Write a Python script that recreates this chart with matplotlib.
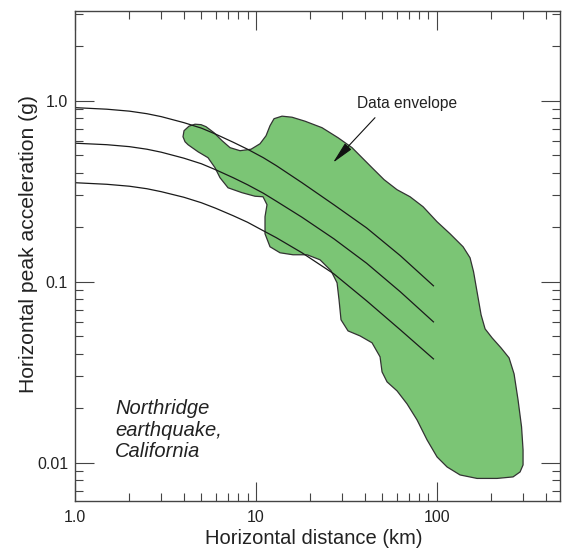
import matplotlib
matplotlib.use("Agg")
import matplotlib.pyplot as plt
from matplotlib.ticker import FixedLocator, FixedFormatter, LogLocator, NullFormatter

plt.rcParams["font.family"] = ["Liberation Sans", "DejaVu Sans"]

# attenuation curves (distance in km, acceleration in g)
curve_dist = [1.0, 1.5, 2.0, 2.5, 3.0, 4.0, 5.0, 6.0, 7.5, 9.0, 11.0, 13.0,
              18.0, 27.0, 41.0, 63.0, 96.0]
upper_acc = [0.915, 0.897, 0.875, 0.847, 0.816, 0.756, 0.705, 0.653, 0.589,
             0.539, 0.484, 0.437, 0.352, 0.266, 0.198, 0.139, 0.0948]
median_acc = [0.582, 0.571, 0.557, 0.539, 0.519, 0.481, 0.448, 0.415, 0.375,
              0.343, 0.308, 0.278, 0.2268, 0.1725, 0.1263, 0.0878, 0.0599]
lower_acc = [0.352, 0.345, 0.3366, 0.326, 0.314, 0.2925, 0.2728, 0.2543, 0.2312,
             0.2128, 0.1910, 0.1747, 0.1443, 0.1104, 0.0783, 0.0541, 0.0374]

# outline of the recorded data envelope
env_dist = [3.956, 4.008, 4.271, 4.609, 4.977, 5.304, 5.872, 6.503, 7.198, 8.178,
            9.408, 10.55, 11.39, 11.98, 12.61, 13.96, 15.86, 18.71, 23.23, 28.49,
            34.05, 38.67, 43.92, 51.19, 60.39, 71.27, 84.11, 100.5, 118.6, 140.0,
            153.0, 160.0, 167.3, 176.1, 185.3, 202.5, 227.1, 251.4, 268.0, 281.9,
            294.8, 300.5, 300.5, 289.2, 264.6, 215.8, 167.3, 134.7, 114.1, 100.5,
            88.5, 77.9, 68.6, 60.39, 53.18, 49.89, 48.64, 43.92, 37.70, 32.36,
            29.59, 28.85, 28.13, 26.06, 22.65, 19.20, 16.06, 13.61, 11.98, 11.24,
            11.24, 11.53, 10.96, 9.90, 8.388, 7.020, 6.339, 5.947, 5.439, 4.788,
            4.217, 4.059]
env_acc = [0.632, 0.682, 0.723, 0.741, 0.737, 0.718, 0.665, 0.601, 0.550, 0.529,
           0.539, 0.578, 0.640, 0.727, 0.795, 0.821, 0.810, 0.770, 0.709, 0.624,
           0.550, 0.484, 0.426, 0.366, 0.322, 0.2944, 0.2593, 0.2142, 0.1838, 0.1558,
           0.1354, 0.1133, 0.0878, 0.0655, 0.0548, 0.0489, 0.0430, 0.0379, 0.0309, 0.0222,
           0.01574, 0.01174, 0.00970, 0.00887, 0.00833, 0.00817, 0.00817, 0.00854, 0.00946, 0.01074,
           0.01334, 0.01720, 0.02109, 0.02489, 0.02791, 0.0317, 0.0384, 0.0459, 0.0501, 0.0534,
           0.0615, 0.0793, 0.0985, 0.1148, 0.1320, 0.1407, 0.1407, 0.1443, 0.1558, 0.1838,
           0.2283, 0.266, 0.2944, 0.2963, 0.310, 0.330, 0.375, 0.426, 0.484, 0.522,
           0.571, 0.593]

x_ticks = [1, 10, 100]
x_labels = ["1.0", "10", "100"]
y_ticks = [0.01, 0.1, 1.0]
y_labels = ["0.01", "0.1", "1.0"]

fig = plt.figure(figsize=(5.63, 5.48), dpi=100)
ax = fig.add_axes([75 / 563, 47 / 548, 485 / 563, 490 / 548])
ax.set_xscale("log")
ax.set_yscale("log")
ax.set_xlim(1.0, 481)
ax.set_ylim(0.00613, 3.13)

ax.fill(env_dist, env_acc, facecolor="#7bc575", edgecolor="#333333",
        linewidth=0.9, joinstyle="round", zorder=1)

for acc in (upper_acc, median_acc, lower_acc):
    ax.plot(curve_dist, acc, color="#1a1a1a", linewidth=0.9, zorder=2)

ax.text(36.3, 0.91, "Data envelope", fontsize=11.2, color="#222222",
        ha="left", va="baseline")
ax.annotate("", xy=(26.7, 0.454), xytext=(45.6, 0.805),
            arrowprops=dict(arrowstyle="-|>,head_length=0.85,head_width=0.17",
                            mutation_scale=16, color="#111111", lw=0.8,
                            shrinkA=0, shrinkB=0))

for ypos, line in zip([0.177, 0.1327, 0.0904],
                      ["Northridge", "earthquake,", "California"]):
    ax.text(0.0825, ypos, line, transform=ax.transAxes, fontsize=14.5,
            style="italic", color="#222222", ha="left", va="baseline")

ax.xaxis.set_major_locator(FixedLocator(x_ticks))
ax.xaxis.set_major_formatter(FixedFormatter(x_labels))
ax.yaxis.set_major_locator(FixedLocator(y_ticks))
ax.yaxis.set_major_formatter(FixedFormatter(y_labels))
ax.xaxis.set_minor_locator(LogLocator(base=10, subs=[2, 3, 4, 5, 6, 7, 8, 9], numticks=20))
ax.yaxis.set_minor_locator(LogLocator(base=10, subs=[2, 3, 4, 5, 6, 7, 8, 9], numticks=20))
ax.xaxis.set_minor_formatter(NullFormatter())
ax.yaxis.set_minor_formatter(NullFormatter())

ax.tick_params(which="both", direction="in", top=True, right=True,
               color="#444444", width=0.8)
ax.tick_params(which="major", length=13.5, labelsize=11.5, labelcolor="#222222")
ax.tick_params(axis="x", which="major", pad=6.5)
ax.tick_params(axis="y", which="major", pad=5)
ax.tick_params(which="minor", length=5.8)
for spine in ax.spines.values():
    spine.set_color("#444444")
    spine.set_linewidth(1.0)

ax.set_xlabel("Horizontal distance (km)", fontsize=14.5, color="#222222")
ax.set_ylabel("Horizontal peak acceleration (g)", fontsize=15.2, color="#222222")
ax.xaxis.set_label_coords(0.4915, -0.057)
ax.yaxis.set_label_coords(-0.076, 0.525)

fig.savefig("out.png", dpi=100)
